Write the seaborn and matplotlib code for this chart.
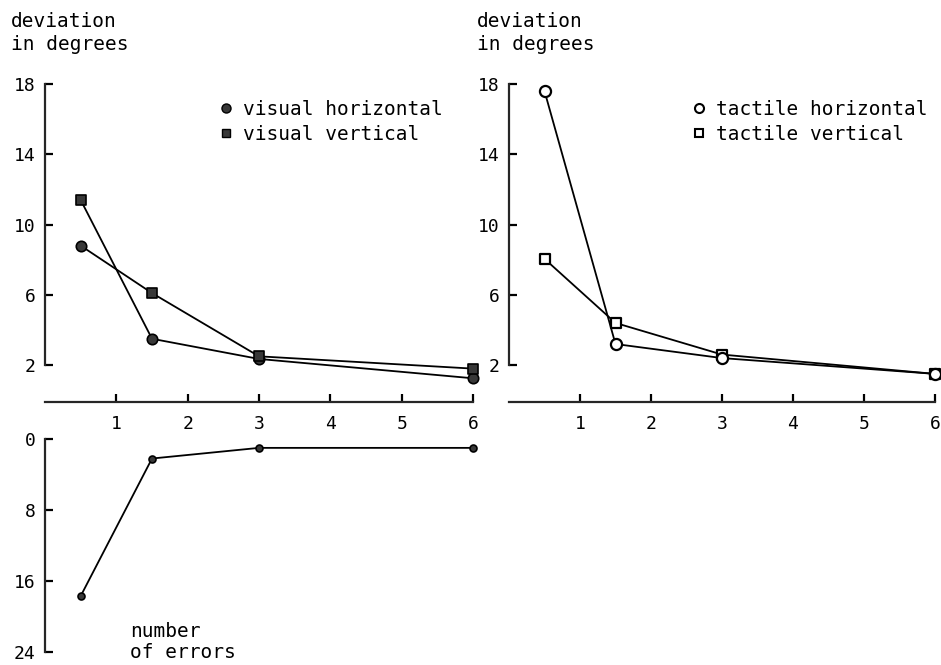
import matplotlib
matplotlib.use("Agg")
import matplotlib.pyplot as plt
from matplotlib.lines import Line2D
import pandas as pd
import seaborn as sns

# Exposure durations (x) and measured deviations in degrees
durations = [0.5, 1.5, 3, 6]
visual_horizontal = [8.8, 3.5, 2.35, 1.25]
visual_vertical = [11.4, 6.1, 2.5, 1.8]
tactile_horizontal = [17.6, 3.2, 2.4, 1.5]
tactile_vertical = [8.05, 4.4, 2.6, 1.5]
errors = [17.7, 2.2, 1.0, 1.0]

x_ticks = [1, 2, 3, 4, 5, 6]
dev_ticks = [2, 6, 10, 14, 18]
err_ticks = [0, 8, 16, 24]

sns.set_theme(style="white")
plt.rcParams["font.family"] = ["DejaVu Sans Mono", "DejaVu Sans"]
plt.rcParams.update({
    "axes.linewidth": 1.6,
    "text.color": "black",
    "axes.labelcolor": "black",
    "xtick.color": "black",
    "ytick.color": "black",
    "xtick.direction": "in",
    "ytick.direction": "in",
    "xtick.major.size": 6,
    "ytick.major.size": 6,
    "xtick.major.width": 1.6,
    "ytick.major.width": 1.6,
    "xtick.major.pad": 9,
    "ytick.major.pad": 7,
    "xtick.labelsize": 13,
    "ytick.labelsize": 13,
    "xtick.bottom": True,
    "ytick.left": True,
})

W, H = 941, 665
fig = plt.figure(figsize=(W / 100, H / 100), dpi=100)


def box(x0, x1, ytop, ybot):
    return [x0 / W, 1 - ybot / H, (x1 - x0) / W, (ybot - ytop) / H]


ax_vis = fig.add_axes(box(45, 473, 84, 402))
ax_tac = fig.add_axes(box(509, 935, 84, 402))
ax_err = fig.add_axes(box(45, 473, 439, 652))

dark = "#383838"


def trace(ax, y):
    df = pd.DataFrame({"duration": durations, "value": y})
    sns.lineplot(data=df, x="duration", y="value", ax=ax, color="black",
                 linewidth=1.3, legend=False, clip_on=False)


def points(ax, y, marker, face, size, edge_w):
    df = pd.DataFrame({"duration": durations, "value": y})
    sns.scatterplot(data=df, x="duration", y="value", ax=ax, marker=marker,
                    s=size ** 2, color=face, edgecolor="black",
                    linewidth=edge_w, legend=False, clip_on=False, zorder=3)


# Visual panel: the early segments cross, each 0.5 point joins the other
# series' 1.5 point before both run on to 6.
trace(ax_vis, [visual_vertical[0]] + visual_horizontal[1:])
trace(ax_vis, [visual_horizontal[0]] + visual_vertical[1:])
points(ax_vis, visual_horizontal, "o", dark, 7.5, 1.2)
points(ax_vis, visual_vertical, "s", dark, 6.8, 1.2)

trace(ax_tac, tactile_horizontal)
trace(ax_tac, tactile_vertical)
points(ax_tac, tactile_vertical, "s", "white", 7.5, 1.6)
points(ax_tac, tactile_horizontal, "o", "white", 8, 1.6)

trace(ax_err, errors)
points(ax_err, errors, "o", dark, 5, 1.2)

for ax in (ax_vis, ax_tac):
    ax.set_xlim(0, 6)
    ax.set_ylim(-0.1, 18)
    ax.set_xticks(x_ticks)
    ax.set_yticks(dev_ticks)
    ax.spines["top"].set_visible(False)
    ax.spines["right"].set_visible(False)
    ax.spines["left"].set_bounds(2, 18)
    ax.spines["bottom"].set_bounds(0, 6)
    ax.tick_params(axis="both", direction="in")
    ax.set_xlabel("")
    ax.set_ylabel("")

ax_err.set_xlim(0, 6)
ax_err.set_ylim(24, 0)
ax_err.set_yticks(err_ticks)
ax_err.set_xticks([])
for s in ("top", "right", "bottom"):
    ax_err.spines[s].set_visible(False)
ax_err.spines["left"].set_bounds(0, 24)
ax_err.tick_params(axis="y", direction="in")
ax_err.set_xlabel("")
ax_err.set_ylabel("")

# Axis captions
fig.text(11 / W, 1 - 12 / H, "deviation\nin degrees", ha="left", va="top",
         fontsize=14, linespacing=1.3)
fig.text(477 / W, 1 - 12 / H, "deviation\nin degrees", ha="left", va="top",
         fontsize=14, linespacing=1.3)
fig.text(130 / W, 1 - 622 / H, "number\nof errors", ha="left", va="top",
         fontsize=14, linespacing=1.15)


def legend(ax, handles, x, y):
    ax.legend(handles=handles, loc="upper left", frameon=False,
              bbox_to_anchor=(x / W, 1 - y / H), bbox_transform=fig.transFigure,
              fontsize=14, handlelength=0.8, handletextpad=0.5,
              labelspacing=0.3, borderpad=0, borderaxespad=0)


legend(ax_vis, [
    Line2D([], [], ls="none", marker="o", ms=6.5, mfc=dark, mec="black",
           label="visual horizontal"),
    Line2D([], [], ls="none", marker="s", ms=6, mfc=dark, mec="black",
           label="visual vertical"),
], 218, 100)
legend(ax_tac, [
    Line2D([], [], ls="none", marker="o", ms=6.5, mfc="white", mec="black",
           mew=1.5, label="tactile horizontal"),
    Line2D([], [], ls="none", marker="s", ms=6, mfc="white", mec="black",
           mew=1.5, label="tactile vertical"),
], 691, 100)

fig.savefig("out.png", dpi=100)
